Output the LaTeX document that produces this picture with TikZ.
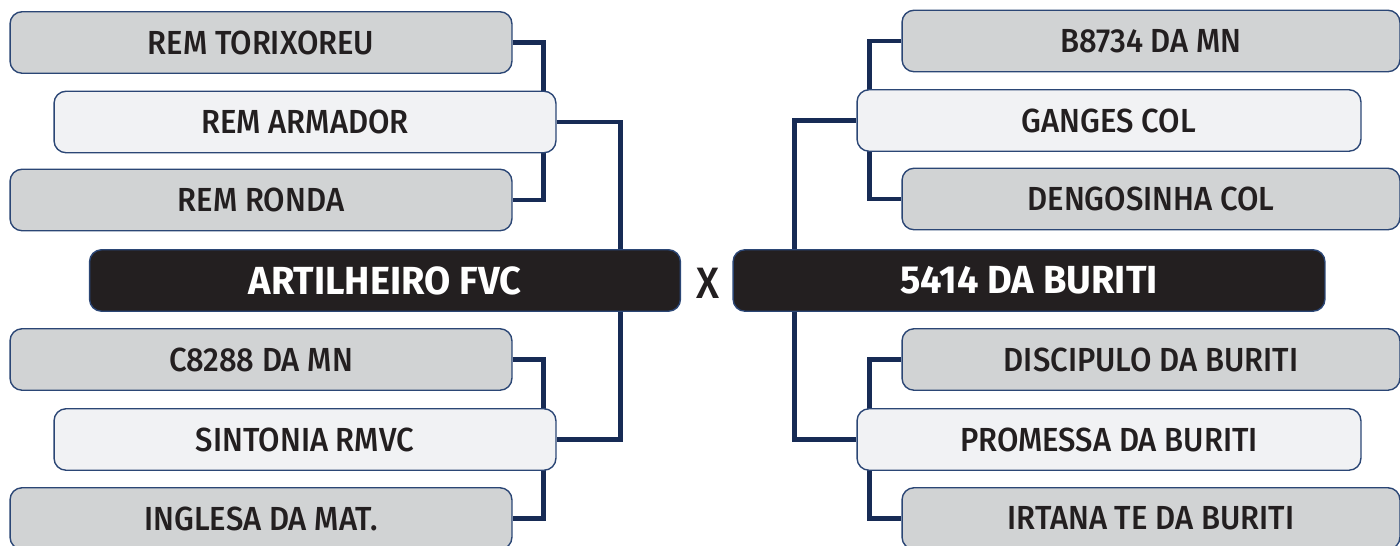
\documentclass[tikz,border=0pt]{standalone}
\usepackage{fontspec}
\setmainfont{Fira Sans}
\newfontfamily\cardfont{Fira Sans}[UprightFont=* Medium,FakeStretch=0.93]
\newfontfamily\finalfont{Fira Sans}[UprightFont=* Bold,FakeStretch=0.97]
\usetikzlibrary{backgrounds}
\definecolor{ink}{HTML}{231F20}
\definecolor{cardgray}{HTML}{D1D3D4}
\definecolor{cardlight}{HTML}{F1F2F4}
\definecolor{rim}{HTML}{2B4675}
\definecolor{navy}{HTML}{172B55}
\tikzset{
  horse/.style={draw=rim,line width=0.8pt,rounded corners=0.24cm,
                minimum width=10.04cm,minimum height=1.23cm,inner sep=0pt,
                text=ink,font=\cardfont\fontsize{19}{19}\selectfont},
  graycard/.style={horse,fill=cardgray},
  lightcard/.style={horse,fill=cardlight},
  finalcard/.style={draw=rim,fill=ink,line width=0.8pt,rounded corners=0.24cm,
                    minimum width=11.82cm,minimum height=1.23cm,inner sep=0pt,
                    text=white,font=\finalfont\fontsize{22.3}{22.3}\selectfont},
  versus/.style={text=ink,inner sep=0pt,font=\cardfont\fontsize{25}{25}\selectfont},
  bracket/.style={draw=navy,line width=2.6pt}
}
\begin{document}
\begin{tikzpicture}[x=0.02cm,y=-0.02cm]
  \useasboundingbox (0,0) rectangle (1400,546);
  % left half
  \node[graycard]  (torixoreu) at (261,42.5)  {REM TORIXOREU};
  \node[lightcard] (armador)   at (305,122)   {REM ARMADOR};
  \node[graycard]  (ronda)     at (261,200)   {REM RONDA};
  \node[finalcard] (artilheiro) at (385,280.5) {ARTILHEIRO FVC};
  \node[graycard]  (cmn)       at (261,359.5) {C8288 DA MN};
  \node[lightcard] (sintonia)  at (305,439.5) {SINTONIA RMVC};
  \node[graycard]  (inglesa)   at (261,518.5) {INGLESA DA MAT.};
  % right half
  \node[graycard,minimum width=9.96cm]  (bmn)       at (1151,41)    {B8734 DA MN};
  \node[lightcard,minimum width=10.08cm] (ganges)   at (1109,120.5) {GANGES COL};
  \node[graycard,minimum width=9.96cm]  (dengosinha) at (1151,199)  {DENGOSINHA COL};
  \node[finalcard,minimum width=11.84cm] (buriti)   at (1029,280.5) {5414 DA BURITI};
  \node[graycard,minimum width=9.96cm]  (discipulo) at (1151,359.5) {DISCIPULO DA BURITI};
  \node[lightcard,minimum width=10.08cm] (promessa) at (1109,439.5) {PROMESSA DA BURITI};
  \node[graycard,minimum width=9.96cm]  (irtana)    at (1151,518.5) {IRTANA TE DA BURITI};
  \node[versus] (vs) at (708,283) {X};
  \begin{scope}[on background layer]
    \draw[bracket] (torixoreu.east) -| ([xshift=-0.26cm]armador.east) |- (ronda.east);
    \draw[bracket] (cmn.east) -| ([xshift=-0.26cm]sintonia.east) |- (inglesa.east);
    \draw[bracket] (armador.east) -| ([xshift=1.28cm]armador.east) |- (sintonia.east);
    \draw[bracket] (bmn.west) -| ([xshift=0.26cm]ganges.west) |- (dengosinha.west);
    \draw[bracket] (discipulo.west) -| ([xshift=0.26cm]promessa.west) |- (irtana.west);
    \draw[bracket] (ganges.west) -| ([xshift=-1.24cm]ganges.west) |- (promessa.west);
  \end{scope}
\end{tikzpicture}
\end{document}
